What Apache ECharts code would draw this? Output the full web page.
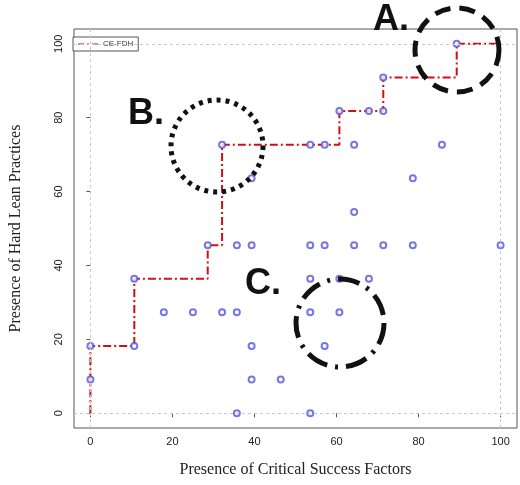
<!DOCTYPE html>
<html>
<head>
<meta charset="utf-8">
<script src="https://cdn.jsdelivr.net/npm/echarts@6/dist/echarts.min.js"></script>
<style>html,body{margin:0;padding:0;background:#fff}#chart{width:520px;height:485px}</style>
</head>
<body>
<div id="chart"></div>
<script>
// observed points (x = CSF presence, y = hard lean practices)
const pointsX = [
  89.3, 71.4, 60.7, 67.9, 71.4, 32.1, 53.6, 57.1, 64.3, 85.7, 39.3, 78.6, 64.3,
  28.6, 35.7, 39.3, 53.6, 57.1, 64.3, 71.4, 78.6, 100,
  10.7, 53.6, 60.7, 67.9,
  17.9, 25, 32.1, 35.7, 53.6, 60.7,
  0, 10.7, 39.3, 57.1,
  0, 39.3, 46.4,
  35.7, 53.6
];
const pointsY = [
  100, 90.9, 81.8, 81.8, 81.8, 72.7, 72.7, 72.7, 72.7, 72.7, 63.6, 63.6, 54.5,
  45.5, 45.5, 45.5, 45.5, 45.5, 45.5, 45.5, 45.5, 45.5,
  36.4, 36.4, 36.4, 36.4,
  27.3, 27.3, 27.3, 27.3, 27.3, 27.3,
  18.2, 18.2, 18.2, 18.2,
  9.1, 9.1, 9.1,
  0, 0
];
// CE-FDH frontier corners
const frontierX = [0, 0, 10.7, 28.6, 32.1, 60.7, 71.4, 89.3, 100];
const frontierY = [0, 18.2, 36.4, 45.5, 72.7, 81.8, 90.9, 100, 100];
const tickValues = [0, 20, 40, 60, 80, 100];

const chart = echarts.init(document.getElementById("chart"));
const serif = "Liberation Serif";
const gridLine = { silent: true, symbol: "none", label: { show: false },
  lineStyle: { color: "#c8c8c8", type: [3, 3], width: 1 } };

chart.setOption({
  animation: false,
  grid: { left: 72, right: 3, top: 29, bottom: 57, show: true, borderColor: "#555", borderWidth: 1 },
  legend: {
    left: 73, top: 37, itemWidth: 20, itemHeight: 8, padding: [3, 5],
    borderColor: "#555", borderWidth: 1, borderRadius: 0, backgroundColor: "#fff",
    textStyle: { fontSize: 8, color: "#333", fontFamily: "Liberation Sans" },
    data: [{ name: "CE-FDH", icon: "path://M0,4H6V5H0ZM9,4H11V5H9ZM14,4H20V5H14Z" }]
  },
  xAxis: {
    type: "value", min: -4, max: 104,
    name: "Presence of Critical Success Factors", nameLocation: "middle", nameGap: 34,
    nameTextStyle: { fontFamily: serif, fontSize: 16, color: "#222" },
    axisLine: { show: false }, splitLine: { show: false },
    axisTick: { show: true, customValues: tickValues, length: 4, lineStyle: { color: "#555" } },
    axisLabel: { customValues: tickValues, fontSize: 11, color: "#222", margin: 8 }
  },
  yAxis: {
    type: "value", min: -4, max: 104,
    name: "Presence of Hard Lean Practices", nameLocation: "middle", nameGap: 50,
    nameTextStyle: { fontFamily: serif, fontSize: 16, color: "#222" },
    axisLine: { show: false }, splitLine: { show: false },
    axisTick: { show: true, customValues: tickValues, length: 4, lineStyle: { color: "#555" } },
    axisLabel: { customValues: tickValues, fontSize: 11, color: "#222", rotate: 90, margin: 10 }
  },
  series: [
    {
      name: "grid", type: "line", data: [], silent: true,
      markLine: Object.assign({ data: [{ xAxis: 0 }, { xAxis: 100 }, { yAxis: 0 }, { yAxis: 100 }] }, gridLine)
    },
    {
      name: "CE-FDH", type: "line", step: "end", symbol: "none",
      data: frontierX.map((x, i) => [x, frontierY[i]]),
      itemStyle: { color: "#d01010" },
      lineStyle: { color: "#d01010", width: 2, type: [8, 3, 2, 3] }, z: 3
    },
    {
      name: "points", type: "scatter", symbol: "emptyCircle", symbolSize: 6,
      data: pointsX.map((x, i) => [x, pointsY[i]]),
      itemStyle: { color: "#5555dd", borderColor: "#5555dd", borderWidth: 1 }, z: 4
    }
  ],
  graphic: [
    { type: "circle", shape: { cx: 457, cy: 50, r: 42 }, style: { fill: "none", stroke: "#111", lineWidth: 5, lineDash: [16, 9] }, z: 10 },
    { type: "circle", shape: { cx: 217, cy: 146, r: 46 }, style: { fill: "none", stroke: "#111", lineWidth: 5, lineDash: [4, 5] }, z: 10 },
    { type: "circle", shape: { cx: 340, cy: 323, r: 44 }, style: { fill: "none", stroke: "#111", lineWidth: 5, lineDash: [22, 8, 3, 8] }, z: 10 },
    { type: "text", left: 373, top: 2, style: { text: "A.", font: "bold 36px Liberation Sans", fill: "#111" }, z: 10 },
    { type: "text", left: 128, top: 96, style: { text: "B.", font: "bold 36px Liberation Sans", fill: "#111" }, z: 10 },
    { type: "text", left: 245, top: 266, style: { text: "C.", font: "bold 36px Liberation Sans", fill: "#111" }, z: 10 }
  ]
});
</script>
</body>
</html>
